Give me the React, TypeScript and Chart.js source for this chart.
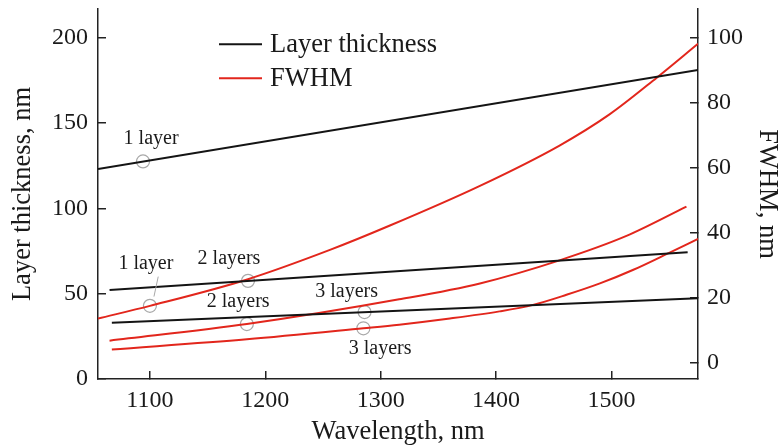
import React, { useEffect, useRef } from "react";
import { Chart, registerables } from "chart.js";

Chart.register(...registerables);

// ---- Axes ----
const xTicks = [1100, 1200, 1300, 1400, 1500];
const leftTicks = [0, 50, 100, 150, 200];
const rightTicks = [0, 20, 40, 60, 80, 100];
const xMin = 1055;
const xMax = 1575;
const leftMin = 0;
const leftMax = 216.8;
const rightMin = -5;
const rightMax = 108.8;

// ---- Layer thickness, nm (left axis) ----
const thick1Wl = [1055, 1575];
const thick1 = [123, 181];
const thick2Wl = [1065, 1566];
const thick2 = [52.2, 74.3];
const thick3Wl = [1067, 1575];
const thick3 = [33.0, 47.3];

// ---- FWHM, nm (right axis) ----
const fwhm1Wl = [1055, 1100, 1185, 1256, 1308, 1386, 1455, 1498, 1539, 1575];
const fwhm1 = [13.6, 17.5, 25.7, 34.7, 42.2, 54.4, 66.8, 76.3, 87.6, 98.1];
const fwhm2Wl = [1065, 1184, 1316, 1386, 1455, 1513, 1565];
const fwhm2 = [6.8, 11.9, 19.5, 24.4, 31.5, 39.0, 48.0];
const fwhm3Wl = [1067, 1184, 1285, 1316, 1360, 1403, 1432, 1461, 1490, 1519, 1550, 1575];
const fwhm3 = [4.1, 7.2, 10.6, 11.7, 13.6, 15.8, 17.8, 20.9, 24.4, 28.6, 33.8, 38.1];

// ---- Marked points (open circles) ----
const thickMarkWl = [1094, 1185, 1286];
const thickMark = [127.5, 57.5, 39.2];
const fwhmMarkWl = [1100, 1184, 1285];
const fwhmMark = [17.5, 11.9, 10.6];

// ---- Text ----
const legendLabels = ["Layer thickness", "FWHM"];
const curveLabels = ["1 layer", "1 layer", "2 layers", "2 layers", "3 layers", "3 layers"];
const xTitle = "Wavelength, nm";
const leftTitle = "Layer thickness, nm";
const rightTitle = "FWHM, nm";

const BLACK = "#141414";
const RED = "#e2261c";
const GREY = "#a8a8a8";
const AXIS = "#222222";
const FONT = "'Liberation Serif', 'Times New Roman', serif";

// label anchors in data units (wavelength, left-axis value)
const labelAnchors = [
  { wl: 1101, v: 141.0 },
  { wl: 1096.5, v: 67.6 },
  { wl: 1168.5, v: 70.6 },
  { wl: 1176.5, v: 45.2 },
  { wl: 1270.5, v: 51.2 },
  { wl: 1299.5, v: 17.6 },
];
const leader = { wl1: 1107.2, v1: 60.0, wl2: 1103.5, v2: 48.3 };

const pts = (xs: number[], ys: number[]) => xs.map((x, i) => ({ x, y: ys[i] }));

const overlay = {
  id: "overlay",
  afterDatasetsDraw(chart: any) {
    const { ctx, chartArea, scales } = chart;
    const sx = scales.x;
    const sy = scales.y;
    ctx.save();
    // legend
    const lx = chartArea.left + 121;
    const ly = [chartArea.top + 35.3, chartArea.top + 69.3];
    const lc = [BLACK, RED];
    ctx.font = `26.5px ${FONT}`;
    ctx.textAlign = "left";
    ctx.textBaseline = "middle";
    legendLabels.forEach((t, i) => {
      ctx.strokeStyle = lc[i];
      ctx.lineWidth = 2;
      ctx.beginPath();
      ctx.moveTo(lx, ly[i]);
      ctx.lineTo(lx + 43, ly[i]);
      ctx.stroke();
      ctx.fillStyle = "#1a1a1a";
      ctx.fillText(t, lx + 51, ly[i] + 1);
    });
    // curve labels
    ctx.font = `20px ${FONT}`;
    ctx.textAlign = "center";
    ctx.fillStyle = "#1a1a1a";
    curveLabels.forEach((t, i) => {
      const a = labelAnchors[i];
      ctx.fillText(t, sx.getPixelForValue(a.wl), sy.getPixelForValue(a.v));
    });
    // leader line
    ctx.strokeStyle = GREY;
    ctx.lineWidth = 1;
    ctx.beginPath();
    ctx.moveTo(sx.getPixelForValue(leader.wl1), sy.getPixelForValue(leader.v1));
    ctx.lineTo(sx.getPixelForValue(leader.wl2), sy.getPixelForValue(leader.v2));
    ctx.stroke();
    ctx.restore();
  },
};

export default function App() {
  const ref = useRef<HTMLCanvasElement>(null);
  useEffect(() => {
    const lineDs = (label: string, data: any[], color: string, axis: string, curved: boolean) => ({
      label,
      data,
      yAxisID: axis,
      borderColor: color,
      backgroundColor: color,
      borderWidth: 2,
      pointRadius: 0,
      fill: false,
      cubicInterpolationMode: curved ? "monotone" : "default",
      tension: curved ? 0.4 : 0,
    });
    const markDs = (data: any[], axis: string) => ({
      label: "mark",
      data,
      yAxisID: axis,
      showLine: false,
      pointRadius: 6.5,
      pointStyle: "circle",
      pointBorderColor: GREY,
      pointBackgroundColor: "rgba(0,0,0,0)",
      pointBorderWidth: 1.2,
    });
    const tickFont = { family: FONT, size: 24, lineHeight: 1 };
    const titleFont = { family: FONT, size: 26.5, lineHeight: 1 };
    const grid = {
      drawOnChartArea: false,
      drawTicks: true,
      tickLength: -8,
      color: AXIS,
      lineWidth: 1.5,
    };
    const border = { display: true, color: AXIS, width: 1.5 };
    const zeroPad = (s: any) => {
      s.paddingTop = 0;
      s.paddingBottom = 0;
      s.paddingLeft = 0;
      s.paddingRight = 0;
    };
    const chart = new Chart(ref.current as HTMLCanvasElement, {
      type: "line",
      data: {
        datasets: [
          lineDs("Layer thickness 1", pts(thick1Wl, thick1), BLACK, "y", false),
          lineDs("Layer thickness 2", pts(thick2Wl, thick2), BLACK, "y", false),
          lineDs("Layer thickness 3", pts(thick3Wl, thick3), BLACK, "y", false),
          lineDs("FWHM 1", pts(fwhm1Wl, fwhm1), RED, "y1", true),
          lineDs("FWHM 2", pts(fwhm2Wl, fwhm2), RED, "y1", true),
          lineDs("FWHM 3", pts(fwhm3Wl, fwhm3), RED, "y1", true),
          markDs(pts(thickMarkWl, thickMark), "y"),
          markDs(pts(fwhmMarkWl, fwhmMark), "y1"),
        ] as any,
      },
      options: {
        animation: false,
        responsive: false,
        devicePixelRatio: 1,
        layout: { padding: { top: 9, left: 0, right: 0, bottom: 0 } },
        plugins: { legend: { display: false }, tooltip: { enabled: false } },
        scales: {
          x: {
            type: "linear",
            position: "bottom",
            min: xMin,
            max: xMax,
            grid,
            border,
            afterBuildTicks: (s: any) => {
              s.ticks = xTicks.map((v) => ({ value: v }));
            },
            afterFit: (s: any) => {
              s.height = 69;
              zeroPad(s);
            },
            ticks: {
              font: tickFont,
              color: "#1a1a1a",
              padding: 18,
              maxRotation: 0,
              autoSkip: false,
              callback: (v: any) => String(v),
            },
            title: {
              display: true,
              text: xTitle,
              font: titleFont,
              color: "#1a1a1a",
              padding: { top: 0, bottom: 3 },
            },
          },
          y: {
            type: "linear",
            position: "left",
            min: leftMin,
            max: leftMax,
            grid,
            border,
            afterBuildTicks: (s: any) => {
              s.ticks = leftTicks.map((v) => ({ value: v }));
            },
            afterFit: (s: any) => {
              s.width = 98;
              zeroPad(s);
            },
            ticks: {
              font: tickFont,
              color: "#1a1a1a",
              padding: 18,
              autoSkip: false,
              callback: (v: any) => String(v),
            },
            title: {
              display: true,
              text: leftTitle,
              font: titleFont,
              color: "#1a1a1a",
              padding: { top: 10, bottom: 0 },
            },
          },
          y1: {
            type: "linear",
            position: "right",
            min: rightMin,
            max: rightMax,
            grid,
            border,
            afterBuildTicks: (s: any) => {
              s.ticks = rightTicks.map((v) => ({ value: v }));
            },
            afterFit: (s: any) => {
              s.width = 80;
              zeroPad(s);
            },
            ticks: {
              font: tickFont,
              color: "#1a1a1a",
              padding: 17,
              autoSkip: false,
              callback: (v: any) => String(v),
            },
            title: {
              display: true,
              text: rightTitle,
              font: titleFont,
              color: "#1a1a1a",
              padding: { top: -2, bottom: 0 },
            },
          },
        },
      } as any,
      plugins: [overlay],
    });
    return () => chart.destroy();
  }, []);
  return (
    <div style={{ position: "fixed", left: 0, top: 0, width: 778, height: 448, background: "#fff" }}>
      <canvas ref={ref} width={778} height={448} style={{ display: "block", width: 778, height: 448 }} />
    </div>
  );
}
